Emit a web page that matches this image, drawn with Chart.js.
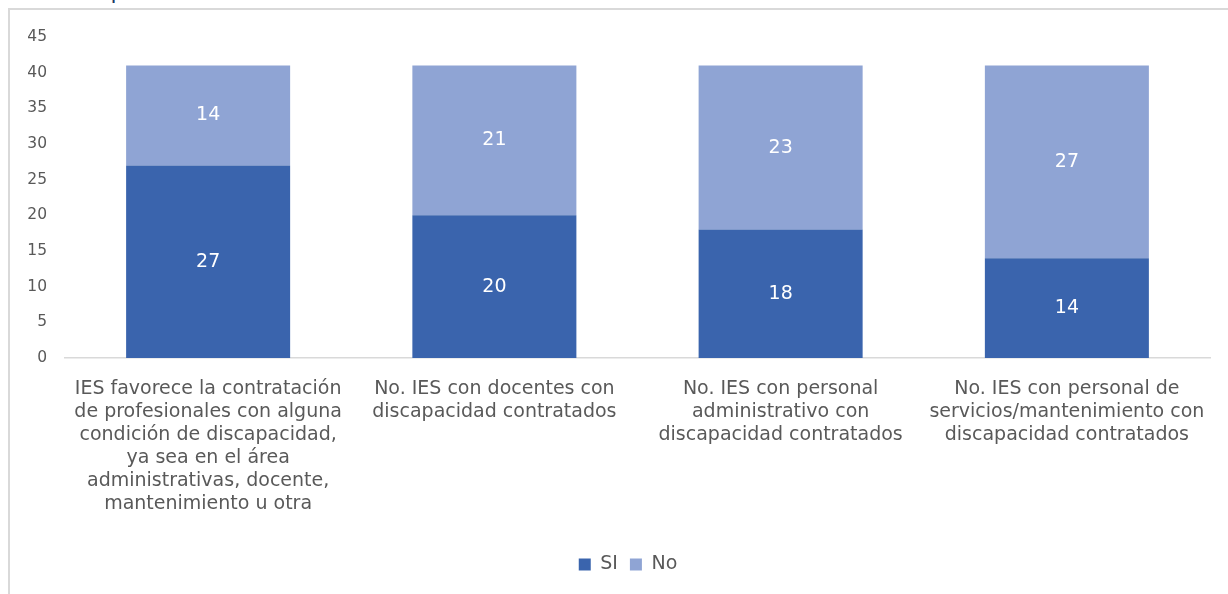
<!DOCTYPE html>
<html>
<head>
<meta charset="utf-8">
<script src="https://cdn.jsdelivr.net/npm/chart.js@4.4.1/dist/chart.umd.min.js"></script>
<style>
  html, body { margin: 0; padding: 0; background: #ffffff; }
  #wrap { position: relative; width: 1228px; height: 594px; overflow: hidden; }
  #frame { position: absolute; left: 8px; top: 8px; width: 1240px; height: 600px;
           border-left: 2px solid #d9d9d9; border-top: 2px solid #d9d9d9; box-sizing: border-box; }
  #titlefrag { position: absolute; left: 111px; top: -20px; font-family: Lato, sans-serif;
               font-size: 22px; color: #1f3864; line-height: 22px; }
  canvas { position: absolute; left: 0; top: 0; }
</style>
</head>
<body>
<div id="wrap">
  <div id="frame"></div>
  <div id="titlefrag">p</div>
  <canvas id="c" width="1228" height="594"></canvas>
</div>
<script>
const categories = [
  ["IES favorece la contratación", "de profesionales con alguna", "condición de discapacidad,", "ya sea en el área", "administrativas, docente,", "mantenimiento u otra"],
  ["No. IES con docentes con", "discapacidad contratados"],
  ["No. IES con personal", "administrativo con", "discapacidad contratados"],
  ["No. IES con personal de", "servicios/mantenimiento con", "discapacidad contratados"]
];
const siValues = [27, 20, 18, 14];
const noValues = [14, 21, 23, 27];
const seriesNames = ["SI", "No"];
const yTicks = [0, 5, 10, 15, 20, 25, 30, 35, 40, 45];

const FONT = '"DejaVu Sans", sans-serif';

const labelPlugin = {
  id: 'segLabels',
  afterLayout(chart) {
    if (chart.legend) { chart.legend.left += 23; chart.legend.right += 23; }
  },
  afterDatasetsDraw(chart) {
    const ctx = chart.ctx;
    ctx.save();
    ctx.fillStyle = '#ffffff';
    ctx.font = '19px ' + FONT;
    ctx.textAlign = 'center';
    ctx.textBaseline = 'middle';
    chart.data.datasets.forEach((ds, i) => {
      const meta = chart.getDatasetMeta(i);
      meta.data.forEach((el, j) => {
        const p = el.getProps(['x', 'y', 'base'], true);
        ctx.fillText(String(ds.data[j]), p.x, (p.y + p.base) / 2);
      });
    });
    ctx.restore();
  }
};

new Chart(document.getElementById('c'), {
  type: 'bar',
  data: {
    labels: categories,
    datasets: [
      { label: seriesNames[0], data: siValues, backgroundColor: '#3a64ad' },
      { label: seriesNames[1], data: noValues, backgroundColor: '#8fa4d4' }
    ]
  },
  options: {
    responsive: false,
    animation: false,
    devicePixelRatio: 1,
    layout: { padding: { left: 0, right: 18, top: 37, bottom: 10 } },
    datasets: { bar: { categoryPercentage: 1.0, barPercentage: 0.573 } },
    plugins: {
      legend: {
        position: 'bottom',
        labels: { boxWidth: 12, boxHeight: 12, padding: 12, color: '#595959',
                  font: { family: FONT, size: 19 } }
      },
      tooltip: { enabled: false }
    },
    scales: {
      x: {
        stacked: true,
        grid: { display: false },
        border: { display: true, color: '#d9d9d9', width: 1.5 },
        ticks: { color: '#595959', font: { family: FONT, size: 19, lineHeight: 1.21 },
                 maxRotation: 0, autoSkip: false, padding: 12 },
        afterFit(scale) { scale.height = 185; }
      },
      y: {
        stacked: true,
        min: 0, max: 45,
        grid: { display: false, drawTicks: false },
        border: { display: false },
        afterBuildTicks(scale) { scale.ticks = yTicks.map(v => ({ value: v })); },
        ticks: { color: '#595959', font: { family: FONT, size: 15.5 }, padding: 18 },
        afterFit(scale) { scale.width = 65; }
      }
    }
  },
  plugins: [labelPlugin]
});
</script>
</body>
</html>
